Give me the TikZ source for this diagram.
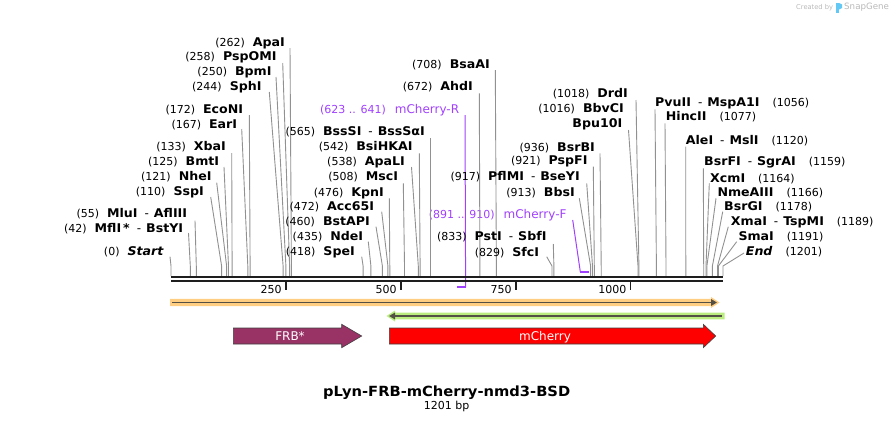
\documentclass[tikz,border=0pt]{standalone}
\usepackage{fontspec}
\setmainfont{DejaVu Sans}[BoldFeatures={FakeStretch=1.05},BoldItalicFeatures={FakeStretch=1.05}]
\usetikzlibrary{arrows.meta}
\definecolor{cutgray}{RGB}{145,145,145}
\definecolor{primer}{RGB}{160,64,255}
\definecolor{barblack}{RGB}{30,30,30}
\definecolor{orangeband}{RGB}{255,206,130}
\definecolor{greenband}{RGB}{186,236,128}
\definecolor{featgray}{RGB}{85,80,70}
\definecolor{frbcol}{RGB}{153,51,102}
\definecolor{cherrycol}{RGB}{255,0,0}
\definecolor{sgray}{RGB}{185,185,185}
\definecolor{sblue}{RGB}{100,200,245}
\newcommand\numfont{\fontsize{11}{13}\selectfont}
\newcommand\namefont{\fontsize{12}{14}\selectfont\bfseries}
\newcommand\nb[1]{{\mdseries\numfont(#1)}}
\newcommand\ngap{\hspace{8pt}}
\newcommand\rgap{\hspace{13pt}}
\newcommand\sepd{\hspace{7pt}{\mdseries -}\hspace{5pt}}
\begin{document}
\begin{tikzpicture}[x=1pt,y=-1pt,
  lbl/.style={inner sep=0pt,font=\namefont},
  plbl/.style={inner sep=0pt,font=\fontsize{12}{14}\selectfont,text=primer},
  cutline/.style={draw=cutgray,line width=0.9pt},
  pline/.style={draw=primer,line width=1pt},
  pbind/.style={draw=primer,line width=2.2pt},
  barline/.style={draw=barblack,line width=2.3pt},
  tickline/.style={draw=barblack,line width=1.6pt},
  ticklbl/.style={inner sep=0pt,font=\numfont},
  featline/.style={draw=featgray,line width=1.8pt,-{Triangle[length=6pt,width=6.5pt]}},
  featbox/.style={draw=black!75,line width=0.6pt},
  featlbl/.style={inner sep=0pt,text=white,font=\fontsize{12}{14}\selectfont},
  titlelbl/.style={inner sep=0pt,font=\fontsize{14}{16}\selectfont\bfseries},
  credit/.style={inner sep=0pt,text=sgray}]
\useasboundingbox (0,0) rectangle (894,421);

% credit
\node[credit,anchor=west,font=\fontsize{6.7}{8}\selectfont] (cr1) at (796,7.5) {Created by};
\fill[sblue] (836,3) -- (839,3) -- (839,13) -- (836,13) -- cycle;
\fill[sblue] (839,3) -- (842,4.5) -- (842,8) -- (839,9.5) -- cycle;
\node[credit,anchor=west,font=\fontsize{8.7}{10}\selectfont] (cr2) at (844,7.5) {SnapGene};

% primers
\node[plbl,anchor=base east] (lmCR) at (459.3,113.5) {\nb{623 .. 641}\hspace{9pt}mCherry-R};
\coordinate (tmCR) at (465,115);
\coordinate (bmCR) at (465.6,287);
\coordinate (emCR) at (457.3,287);
\draw[pline] (tmCR) -- (bmCR);
\draw[pbind] (bmCR) -- (emCR);
\node[plbl,anchor=base east] (lmCF) at (566.7,218.2) {\nb{891 .. 910}\hspace{9pt}mCherry-F};
\coordinate (tmCF) at (572.7,220);
\coordinate (bmCF) at (580.3,271.7);
\coordinate (emCF) at (589.3,271.7);
\draw[pline] (tmCF) -- (bmCF);
\draw[pbind] (bmCF) -- (emCF);

% left-side / middle labels (text right aligned)
\foreach \nm/\rx/\yy/\num/\txt/\tx/\ty/\sx in {
  ApaI/285/42.7/262/{ApaI}/290/48/291.4,
  PspOMI/276.7/56.7/258/{PspOMI}/282.7/63/289.6,
  BpmI/271.7/71.7/250/{BpmI}/276/77/285.9,
  SphI/261.7/86.7/244/{SphI}/269.3/92/283.1,
  EcoNI/243.3/109.3/172/{EcoNI}/249.3/115/250.1,
  EarI/237.3/124.3/167/{EarI}/241.7/129/247.8,
  XbaI/226/146.7/133/{XbaI}/231.7/153/232.1,
  BmtI/219.3/161.7/125/{BmtI}/224/167/228.5,
  NheI/211.7/176.7/121/{NheI}/216.7/182.7/226.6,
  SspI/204/191.7/110/{SspI}/210.7/197/221.6,
  MluI/187.3/213.3/55/{MluI\sepd AflIII}/195/220.7/196.3,
  MflI/183.3/228.3/42/{MflI\hspace{2pt}*\sepd BstYI}/188.5/233/190.3,
  Start/164/251.7/0/{\textit{Start}}/170/256.7/171,
  BssSI/425/131.7/565/{BssSI\sepd BssSαI}/430.7/138.3/430.7,
  BsiHKAI/412.7/146.7/542/{BsiHKAI}/419.3/153.3/420.1,
  ApaLI/405/161.7/538/{ApaLI}/411.5/167/418.3,
  MscI/398.3/176.7/508/{MscI}/403.3/183.3/404.5,
  KpnI/384/192.3/476/{KpnI}/389.3/198.3/389.8,
  Acc65I/374.3/206.7/472/{Acc65I}/381.7/211.7/387.9,
  BstAPI/370/221.7/460/{BstAPI}/376/226.7/382.4,
  NdeI/363.3/236.7/435/{NdeI}/368.3/241.7/370.9,
  SpeI/355/251.7/418/{SpeI}/361.7/256.7/363.1,
  AhdI/473/86.7/672/{AhdI}/479.3/93.3/479.9,
  BsaAI/490/64/708/{BsaAI}/495.3/70/496.4,
  DrdI/628/93/1018/{DrdI}/636/100/638.9,
  BsrBI/595/147/936/{BsrBI}/600/153.3/601.2,
  PspFI/587.7/160/921/{PspFI}/593.3/166.7/594.3,
  PflMI/580/176.7/917/{PflMI\sepd BseYI}/586.7/183.3/592.5,
  BbsI/575/192/913/{BbsI}/579.3/198.3/590.6,
  PstI/546.7/236.7/833/{PstI\sepd SbfI}/553.3/244/553.9,
  SfcI/539.3/252/829/{SfcI}/546.7/256.7/552}
{
  \node[lbl,anchor=base east] (l\nm) at (\rx,\yy+4.2) {\nb{\num}\ngap\txt};
  \coordinate (t\nm) at (\tx,\ty);
  \coordinate (k\nm) at (\sx,266);
  \coordinate (s\nm) at (\sx,276);
  \draw[cutline] (t\nm) -- (k\nm) -- (s\nm);
}
\node[lbl,anchor=base east] (lBbvCI) at (624,112.2) {\nb{1016}\ngap BbvCI};
\node[lbl,anchor=base east] (lBpu10I) at (622.5,127.2) {Bpu10I};
\coordinate (tBpu10I) at (628.5,130);
\coordinate (kBpu10I) at (638,266);
\coordinate (sBpu10I) at (638,276);
\draw[cutline] (tBpu10I) -- (kBpu10I) -- (sBpu10I);

% right-side labels (text left aligned)
\foreach \nm/\lx/\yy/\num/\txt/\tx/\ty/\sx in {
  PvuII/655/102.7/1056/{PvuII\sepd MspA1I}/655/109.3/656.4,
  HincII/665.7/116.7/1077/{HincII}/665/123.3/666,
  AleI/685.7/140/1120/{AleI\sepd MslI}/685.7/146.7/685.8,
  BsrFI/704/161.7/1159/{BsrFI\sepd SgrAI}/703.3/168.3/703.7,
  XcmI/710/178/1164/{XcmI}/709.3/183.3/706,
  NmeAIII/717.3/192.7/1166/{NmeAIII}/716/198.3/706.9,
  BsrGI/724/206.7/1178/{BsrGI}/722.7/211.7/712.4,
  XmaI/730.7/221.7/1189/{XmaI\sepd TspMI}/728.3/226.7/717.5,
  SmaI/738.3/236.7/1191/{SmaI}/736.7/241.7/718.4,
  End/745.7/251.7/1201/{\textit{End}}/744/253/723}
{
  \node[lbl,anchor=base west] (l\nm) at (\lx,\yy+4.2) {\txt\rgap\nb{\num}};
  \coordinate (t\nm) at (\tx,\ty);
  \coordinate (k\nm) at (\sx,266);
  \coordinate (s\nm) at (\sx,276);
  \draw[cutline] (t\nm) -- (k\nm) -- (s\nm);
}

% sequence bar
\coordinate (barL) at (171,277.2);
\coordinate (barR) at (723,277.2);
\coordinate (barL2) at (171,281.2);
\coordinate (barR2) at (723,281.2);
\draw[barline] (barL) -- (barR);
\draw[barline] (barL2) -- (barR2);
\foreach \v/\xx in {250/285.9,500/400.8,750/515.7,1000/630.6}{
  \coordinate (tka\v) at (\xx,282);
  \coordinate (tkb\v) at (\xx,289.5);
  \draw[tickline] (tka\v) -- (tkb\v);
  \node[ticklbl,anchor=base east] (tk\v) at (\xx-4,293) {\v};
}

% feature bands
\fill[orangeband] (170,298.8) -- (711,298.8) -- (711,297) -- (719.5,302.5) -- (711,308) -- (711,306.2) -- (170,306.2) -- cycle;
\coordinate (oL) at (172,302.5);
\coordinate (oR) at (717,302.5);
\draw[featline] (oL) -- (oR);
\fill[greenband] (724.5,312.7) -- (395,312.7) -- (395,310.5) -- (386.5,316) -- (395,321.5) -- (395,319.3) -- (724.5,319.3) -- cycle;
\coordinate (gR) at (721.5,316);
\coordinate (gL) at (389,316);
\draw[featline] (gR) -- (gL);

% feature arrows
\filldraw[featbox,fill=frbcol] (233.3,328) -- (341.7,328) -- (341.7,324.3) -- (361.7,336) -- (341.7,347.7) -- (341.7,344) -- (233.3,344) -- cycle;
\node[featlbl,anchor=base] (frb) at (290,340.4) {FRB*};
\filldraw[featbox,fill=cherrycol] (389.3,328) -- (703.3,328) -- (703.3,324.3) -- (715.7,336) -- (703.3,347.7) -- (703.3,344) -- (389.3,344) -- cycle;
\node[featlbl,anchor=base] (mch) at (545,340.4) {mCherry};

% title
\node[titlelbl,anchor=base] (title) at (446.7,396) {pLyn-FRB-mCherry-nmd3-BSD};
\node[ticklbl,anchor=base] (bp) at (446.7,409) {1201 bp};
\end{tikzpicture}
\end{document}
